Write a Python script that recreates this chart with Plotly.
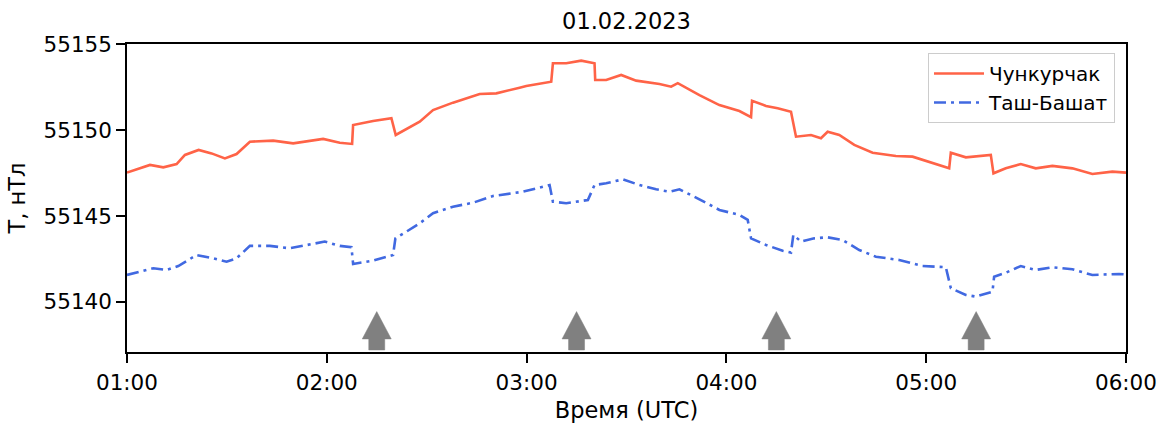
import pandas as pd
import plotly.graph_objects as go

# ---- data (minutes after 01:00 UTC, field in nT) ----
red_t = [0, 6.9, 10.9, 14.9, 17.4, 21.5, 25.4, 29.4, 32.9, 36.9, 43.9, 49.9, 58.9, 63.9, 67.6,
         67.9, 73.9, 79.4, 80.7, 83.9, 87.9, 91.9, 97.9, 105.9, 110.9, 117.9, 119.9, 127.4,
         127.9, 131.9, 136.4, 140.4, 140.6, 143.9, 148.4, 152.9, 159.9, 163.4, 165.4, 171.9,
         177.9, 183.9, 187.4, 187.7, 191.9, 195.4, 199.4, 200.9, 205.4, 208.4, 210.4, 213.9,
         218.4, 223.9, 230.9, 235.9, 245.9, 246.9, 247.4, 251.9, 259.4, 260.2, 263.9, 268.4,
         272.9, 277.9, 283.9, 289.9, 295.9, 300]
red_v = [55147.52, 55147.97, 55147.83, 55148.02, 55148.55, 55148.84, 55148.64, 55148.35, 55148.60,
         55149.32, 55149.38, 55149.22, 55149.48, 55149.26, 55149.19,
         55150.29, 55150.52, 55150.68, 55149.71, 55150.04, 55150.48, 55151.16, 55151.59, 55152.09,
         55152.13, 55152.46, 55152.56, 55152.81,
         55153.88, 55153.88, 55154.03, 55153.88, 55152.91, 55152.91, 55153.20, 55152.87, 55152.67,
         55152.52, 55152.72, 55152.03, 55151.45, 55151.10, 55150.74,
         55151.70, 55151.40, 55151.26, 55151.06, 55149.61, 55149.71, 55149.52, 55149.90, 55149.71,
         55149.13, 55148.68, 55148.49, 55148.45, 55147.87, 55147.77,
         55148.68, 55148.41, 55148.55, 55147.48, 55147.77, 55148.02, 55147.77, 55147.91, 55147.77,
         55147.44, 55147.58, 55147.52]

blue_t = [0, 3.9, 7.9, 11.9, 15.4, 20.9, 25.9, 29.9, 32.9, 36.9, 42.9, 48.9, 53.9, 59.4, 63.9,
          67.4, 67.9, 73.9, 79.9, 80.6, 83.9, 87.9, 91.9, 97.9, 103.9, 109.9, 118.9, 126.9,
          127.9, 131.9, 138.4, 140.4, 143.9, 148.9, 153.9, 158.9, 162.9, 165.9, 171.9, 177.9,
          183.9, 186.4, 187.4, 191.9, 196.9, 199.4, 200.1, 202.4, 206.4, 210.4, 214.9, 219.9,
          224.9, 231.9, 238.9, 245.9, 247.4, 251.9, 254.9, 259.9, 260.4, 263.9, 268.4, 272.9,
          277.9, 283.9, 289.9, 297.9, 300]
blue_v = [55141.57, 55141.76, 55141.96, 55141.86, 55142.09, 55142.73, 55142.54, 55142.34, 55142.54,
          55143.26, 55143.26, 55143.12, 55143.31, 55143.51, 55143.26,
          55143.18, 55142.21, 55142.40, 55142.73, 55143.70, 55144.09, 55144.57, 55145.16, 55145.54,
          55145.77, 55146.16, 55146.41, 55146.80,
          55145.83, 55145.74, 55145.93, 55146.80, 55146.90, 55147.13, 55146.80, 55146.55, 55146.41,
          55146.55, 55145.97, 55145.35,
          55145.06, 55144.77, 55143.70, 55143.31, 55142.98, 55142.87, 55143.90, 55143.51, 55143.70,
          55143.76, 55143.60, 55143.02,
          55142.63, 55142.44, 55142.09, 55142.02, 55140.80, 55140.41, 55140.31, 55140.60, 55141.47,
          55141.70, 55142.09, 55141.86,
          55142.02, 55141.90, 55141.57, 55141.63, 55141.60]

arrow_times = ["02:15", "03:15", "04:15", "05:15"]

x_ticks = ["01:00", "02:00", "03:00", "04:00", "05:00", "06:00"]
y_ticks = [55140, 55145, 55150, 55155]

series_names = ["Чункурчак", "Таш-Башат"]
title_text = "01.02.2023"
x_label = "Время (UTC)"
y_label = "T, нТл"

# ---- build ----
day = "2023-02-01"
t0 = pd.Timestamp(f"{day} 01:00")
def to_time(mins):
    return [t0 + pd.Timedelta(minutes=m) for m in mins]

FONT = "DejaVu Sans"
TICK_SIZE = 21.5
LABEL_SIZE = 22.5
fig = go.Figure()

fig.add_trace(go.Scatter(x=to_time(red_t), y=red_v, mode="lines", name=series_names[0],
                         line=dict(color="#ff6347", width=2.6)))
fig.add_trace(go.Scatter(x=to_time(blue_t), y=blue_v, mode="lines", name=series_names[1],
                         line=dict(color="#4169e1", width=2.6, dash="12px,5px,3px,5px")))

# block arrows (geometry in minutes / nT relative to the arrow position)
head_hw, shaft_hw = 4.35, 2.4
y_bot, y_neck, y_tip = 55137.21, 55137.85, 55139.44
ax, ay = [], []
for at in arrow_times:
    c = pd.Timestamp(f"{day} {at}")
    d = lambda m: c + pd.Timedelta(minutes=m)
    ax += [d(-shaft_hw), d(shaft_hw), d(shaft_hw), d(head_hw), d(0), d(-head_hw), d(-shaft_hw), d(-shaft_hw), None]
    ay += [y_bot, y_bot, y_neck, y_neck, y_tip, y_neck, y_neck, y_bot, None]
fig.add_trace(go.Scatter(x=ax, y=ay, mode="lines", fill="toself", fillcolor="#808080",
                         line=dict(color="#808080", width=0.5), showlegend=False, hoverinfo="skip"))

fig.update_layout(
    width=1164, height=423,
    margin=dict(l=127, r=38, t=44, b=71, autoexpand=False),
    paper_bgcolor="white", plot_bgcolor="white",
    font=dict(family=FONT, size=TICK_SIZE, color="black"),
    title=dict(text=title_text, x=0.5, xanchor="center",
               y=1 - 21 / 423, yanchor="middle", xref="paper", yref="container",
               font=dict(size=LABEL_SIZE)),
    legend=dict(x=0.989, y=0.971, xanchor="right", yanchor="top",
                bgcolor="rgba(255,255,255,0.85)", bordercolor="#cccccc", borderwidth=1,
                font=dict(size=20), tracegroupgap=0, itemwidth=50),
    showlegend=True,
)
fig.update_xaxes(
    type="date", automargin=False,
    range=[f"{day} {x_ticks[0]}", f"{day} {x_ticks[-1]}"],
    tickvals=[f"{day} {t}" for t in x_ticks], ticktext=x_ticks,
    showline=True, linecolor="black", linewidth=1.5, mirror=True,
    ticks="outside", ticklen=9, tickwidth=1.5, tickcolor="black",
    ticklabelstandoff=1,
    showgrid=False, zeroline=False,
    title=dict(text=x_label, standoff=12, font=dict(size=LABEL_SIZE)),
)
fig.update_yaxes(
    automargin=False,
    range=[55137.09, 55155],
    tickvals=y_ticks, ticktext=[str(v) for v in y_ticks],
    showline=True, linecolor="black", linewidth=1.5, mirror=True,
    ticks="outside", ticklen=9, tickwidth=1.5, tickcolor="black",
    showgrid=False, zeroline=False,
    title=dict(text=y_label, standoff=12, font=dict(size=LABEL_SIZE)),
)

fig.write_html("out.html")
